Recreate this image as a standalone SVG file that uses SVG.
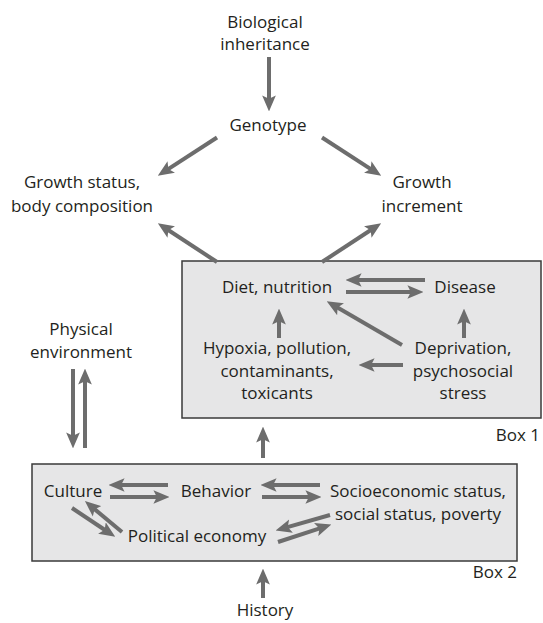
<svg xmlns="http://www.w3.org/2000/svg" width="543" height="623" viewBox="0 0 543 623">
<style>
text{font-family:"Open Sans","Noto Sans",sans-serif;font-size:17px;fill:#231f20;text-anchor:middle}
.box{fill:#e6e6e7;stroke:#3a3a3a;stroke-width:1.5}
.a{stroke:#6d6d6d;stroke-width:4;fill:none;marker-end:url(#h)}
</style>
<defs>
<marker id="h" markerUnits="userSpaceOnUse" markerWidth="16" markerHeight="14" viewBox="0 0 14 12" refX="4" refY="6" orient="auto">
<path d="M0,0 L14,6 L0,12 L3,6 z" fill="#6d6d6d"/>
</marker>
</defs>
<g id="box1"><rect class="box" x="182" y="261" width="359" height="157"/><text x="540" y="441" style="text-anchor:end">Box 1</text></g>
<g id="box2"><rect class="box" x="32" y="464" width="485" height="97"/><text x="517" y="578" style="text-anchor:end">Box 2</text></g>
<g id="biological"><text x="265" y="28">Biological</text><text x="265" y="50">inheritance</text></g>
<g id="genotype"><text x="268" y="131">Genotype</text></g>
<g id="growth-status"><text x="82" y="188">Growth status,</text><text x="82" y="212">body composition</text></g>
<g id="growth-increment"><text x="422" y="188">Growth</text><text x="422" y="212">increment</text></g>
<g id="diet"><text x="277" y="293">Diet, nutrition</text></g>
<g id="disease"><text x="465" y="293">Disease</text></g>
<g id="hypoxia"><text x="277" y="354">Hypoxia, pollution,</text><text x="277" y="377">contaminants,</text><text x="277" y="399">toxicants</text></g>
<g id="deprivation"><text x="463" y="354">Deprivation,</text><text x="463" y="377">psychosocial</text><text x="463" y="399">stress</text></g>
<g id="physical"><text x="81" y="335">Physical</text><text x="81" y="358">environment</text></g>
<g id="culture"><text x="73" y="497">Culture</text></g>
<g id="behavior"><text x="216" y="497">Behavior</text></g>
<g id="ses"><text x="418" y="497">Socioeconomic status,</text><text x="418" y="520">social status, poverty</text></g>
<g id="political"><text x="197" y="542">Political economy</text></g>
<g id="history"><text x="265" y="616">History</text></g>
<g id="connectors">
<line class="a" x1="269" y1="57" x2="269" y2="100"/>
<line class="a" x1="217" y1="137.5" x2="167.4" y2="169.6"/>
<line class="a" x1="322" y1="137.5" x2="371.6" y2="169.6"/>
<line class="a" x1="217" y1="262" x2="167.4" y2="229.5"/>
<line class="a" x1="322" y1="262" x2="371.6" y2="229.5"/>
<line class="a" x1="425" y1="280" x2="357" y2="280"/>
<line class="a" x1="346" y1="292" x2="412" y2="292"/>
<line class="a" x1="279" y1="338" x2="279" y2="320"/>
<line class="a" x1="464" y1="338" x2="464" y2="320"/>
<line class="a" x1="402" y1="345" x2="336.6" y2="307"/>
<line class="a" x1="403" y1="365" x2="370" y2="365"/>
<line class="a" x1="263" y1="458" x2="263" y2="438"/>
<line class="a" x1="73" y1="369" x2="73" y2="437"/>
<line class="a" x1="85" y1="448" x2="85" y2="380"/>
<line class="a" x1="168" y1="485" x2="120" y2="485"/>
<line class="a" x1="110" y1="497" x2="158" y2="497"/>
<line class="a" x1="320" y1="485" x2="272" y2="485"/>
<line class="a" x1="262" y1="497" x2="310" y2="497"/>
<line class="a" x1="330" y1="515" x2="286.6" y2="527.3"/>
<line class="a" x1="278" y1="542" x2="320.5" y2="528.1"/>
<line class="a" x1="72" y1="508" x2="105.7" y2="530.5"/>
<line class="a" x1="122" y1="532" x2="93.7" y2="508.4"/>
<line class="a" x1="263" y1="598" x2="263" y2="580"/>
</g>
</svg>
